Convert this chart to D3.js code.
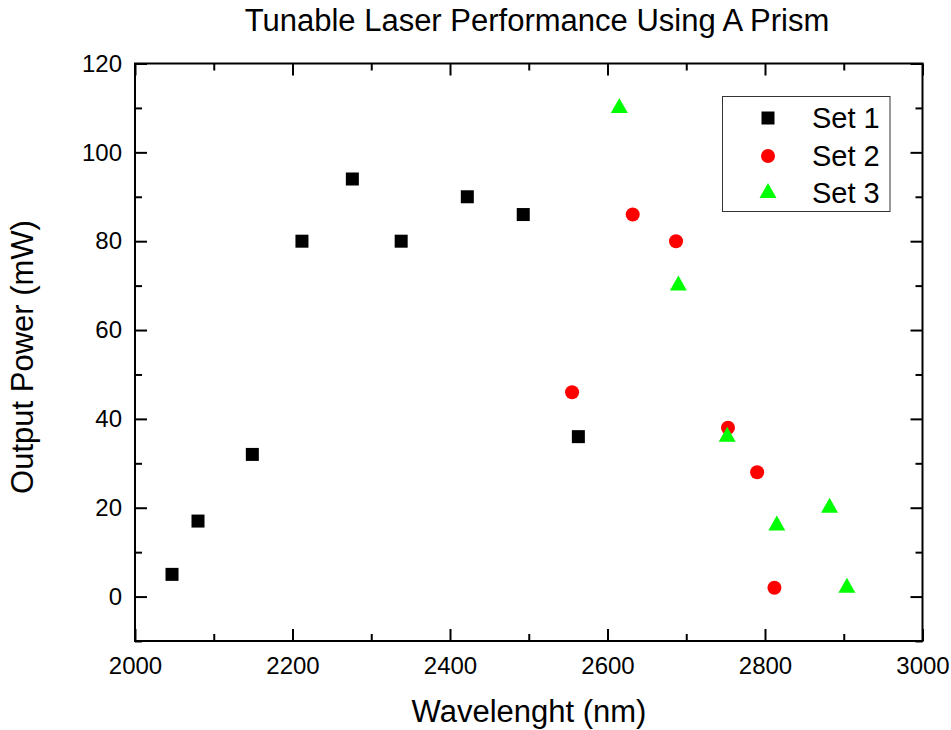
<!DOCTYPE html>
<html>
<head>
<meta charset="utf-8">
<script src="https://cdn.jsdelivr.net/npm/d3@7/dist/d3.min.js"></script>
<style>
  html, body { margin: 0; padding: 0; background: #fff; }
  svg { display: block; font-family: "Liberation Sans", Arial, sans-serif; }
</style>
</head>
<body>
<svg id="chart" width="951" height="730"></svg>
<script>
// ---- Data ----
const set1X = [2047, 2080, 2149, 2212, 2276, 2338, 2422, 2493, 2563];
const set1Y = [5, 17, 32, 80, 94, 80, 90, 86, 36];
const set2X = [2555, 2632, 2687, 2753, 2790, 2812];
const set2Y = [46, 86, 80, 38, 28, 2];
const set3X = [2615, 2690, 2752, 2815, 2882, 2904];
const set3Y = [110, 70, 36, 16, 20, 2];
const seriesNames = ["Set 1", "Set 2", "Set 3"];
const xTicks = [2000, 2200, 2400, 2600, 2800, 3000];
const yTicks = [0, 20, 40, 60, 80, 100, 120];
const xMinor = [2100, 2300, 2500, 2700, 2900];
const yMinor = [-10, 10, 30, 50, 70, 90, 110];
const titleText = "Tunable Laser Performance Using A Prism";
const xLabel = "Wavelenght (nm)";
const yLabel = "Output Power (mW)";

// ---- Layout ----
const W = 951, H = 730;
const L = 135, R = 922.5, T = 63.5, B = 641;
const svg = d3.select("#chart");

const x = d3.scaleLinear().domain([2000, 3000]).range([L, R]);
const y = d3.scaleLinear().domain([-10, 120]).range([B, T]);

// frame
svg.append("rect").attr("x", L).attr("y", T).attr("width", R - L).attr("height", B - T)
  .attr("fill", "none").attr("stroke", "#000").attr("stroke-width", 2);

function styleAxis(g) {
  g.select(".domain").remove();
  g.selectAll(".tick line").attr("stroke", "#000").attr("stroke-width", 2);
  g.selectAll(".tick text").attr("fill", "#000").attr("font-size", 24)
    .attr("font-family", "Liberation Sans, Arial, sans-serif");
}

// bottom major
svg.append("g").attr("transform", `translate(0,${B})`)
  .call(d3.axisBottom(x).tickValues(xTicks).tickSize(-12).tickPadding(16).tickFormat(d3.format("d")))
  .call(styleAxis);
// bottom minor
svg.append("g").attr("transform", `translate(0,${B})`)
  .call(d3.axisBottom(x).tickValues(xMinor).tickSize(-7).tickFormat(""))
  .call(styleAxis);
// top
svg.append("g").attr("transform", `translate(0,${T})`)
  .call(d3.axisTop(x).tickValues(xTicks).tickSize(-12).tickFormat(""))
  .call(styleAxis);
svg.append("g").attr("transform", `translate(0,${T})`)
  .call(d3.axisTop(x).tickValues(xMinor).tickSize(-7).tickFormat(""))
  .call(styleAxis);
// left
svg.append("g").attr("transform", `translate(${L},0)`)
  .call(d3.axisLeft(y).tickValues(yTicks).tickSize(-12).tickPadding(13).tickFormat(d3.format("d")))
  .call(styleAxis);
svg.append("g").attr("transform", `translate(${L},0)`)
  .call(d3.axisLeft(y).tickValues(yMinor).tickSize(-7).tickFormat(""))
  .call(styleAxis);
// right
svg.append("g").attr("transform", `translate(${R},0)`)
  .call(d3.axisRight(y).tickValues(yTicks).tickSize(-12).tickFormat(""))
  .call(styleAxis);
svg.append("g").attr("transform", `translate(${R},0)`)
  .call(d3.axisRight(y).tickValues(yMinor).tickSize(-7).tickFormat(""))
  .call(styleAxis);

// titles
svg.append("text").attr("x", 537).attr("y", 31).attr("text-anchor", "middle")
  .attr("font-size", 31).attr("fill", "#000").text(titleText);
svg.append("text").attr("x", 529).attr("y", 722).attr("text-anchor", "middle")
  .attr("font-size", 31).attr("fill", "#000").text(xLabel);
svg.append("text").attr("transform", "translate(33,357) rotate(-90)").attr("text-anchor", "middle")
  .attr("font-size", 31).attr("fill", "#000").text(yLabel);

// markers
const triPath = "M0,-10 L8.5,5 L-8.5,5 Z";
const plot = svg.append("g");
plot.selectAll("rect.s1").data(set1X.map((d, i) => [d, set1Y[i]])).join("rect")
  .attr("class", "s1")
  .attr("x", d => x(d[0]) - 6.5).attr("y", d => y(d[1]) - 6.5)
  .attr("width", 13).attr("height", 13).attr("fill", "#000");
plot.selectAll("circle.s2").data(set2X.map((d, i) => [d, set2Y[i]])).join("circle")
  .attr("class", "s2")
  .attr("cx", d => x(d[0])).attr("cy", d => y(d[1])).attr("r", 7).attr("fill", "#ff0000");
plot.selectAll("path.s3").data(set3X.map((d, i) => [d, set3Y[i]])).join("path")
  .attr("class", "s3")
  .attr("transform", d => `translate(${x(d[0])},${y(d[1])})`)
  .attr("d", triPath).attr("fill", "#00ff00");

// legend
const lg = svg.append("g");
lg.append("rect").attr("x", 722.5).attr("y", 96.5).attr("width", 167.5).attr("height", 115)
  .attr("fill", "#fff").attr("stroke", "#333").attr("stroke-width", 1);
const rowsY = [118, 156, 193];
lg.append("rect").attr("x", 768 - 6.5).attr("y", rowsY[0] - 6.5).attr("width", 13).attr("height", 13).attr("fill", "#000");
lg.append("circle").attr("cx", 768).attr("cy", rowsY[1]).attr("r", 7).attr("fill", "#ff0000");
lg.append("path").attr("transform", `translate(768,${rowsY[2]})`).attr("d", triPath).attr("fill", "#00ff00");
seriesNames.forEach((n, i) => {
  lg.append("text").attr("x", 812).attr("y", rowsY[i] + 10).attr("font-size", 29)
    .attr("fill", "#000").text(n);
});
</script>
</body>
</html>
